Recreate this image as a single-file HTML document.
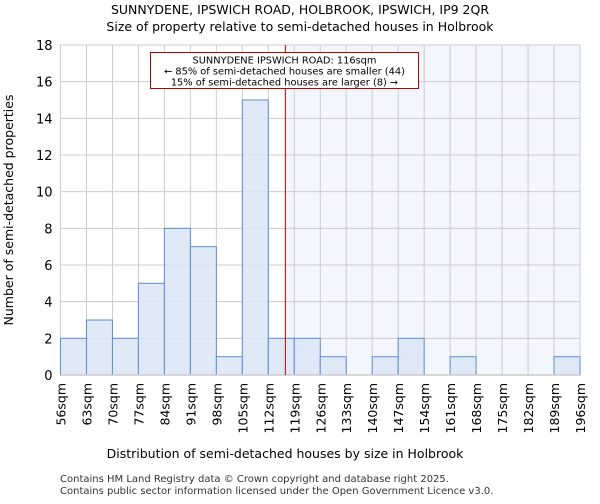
<!DOCTYPE html>
<html><head><meta charset="utf-8"><style>
body{margin:0;background:#fff;font-family:"DejaVu Sans","Liberation Sans",sans-serif}
</style></head><body>
<svg width="600" height="500" viewBox="0 0 600 500" font-family="DejaVu Sans, Liberation Sans, sans-serif">
<text x="300" y="14" text-anchor="middle" font-size="12.5">SUNNYDENE, IPSWICH ROAD, HOLBROOK, IPSWICH, IP9 2QR</text>
<text x="300" y="31" text-anchor="middle" font-size="12.5">Size of property relative to semi-detached houses in Holbrook</text>
<g id="plot"></g>
<text x="285" y="458" text-anchor="middle" font-size="12.5">Distribution of semi-detached houses by size in Holbrook</text>
<text transform="translate(13,210) rotate(-90)" text-anchor="middle" font-size="12.5">Number of semi-detached properties</text>
<text x="60" y="482" font-size="10" fill="#333">Contains HM Land Registry data © Crown copyright and database right 2025.</text>
<text x="60" y="494" font-size="10" fill="#333">Contains public sector information licensed under the Open Government Licence v3.0.</text>
</svg>
<script>
const binStarts=[56,63,70,77,84,91,98,105,112,119,126,133,140,147,154,161,168,175,182,189];
const counts=[2,3,2,5,8,7,1,15,2,2,1,0,1,2,0,1,0,0,0,1];
const xTickLabels=["56sqm","63sqm","70sqm","77sqm","84sqm","91sqm","98sqm","105sqm","112sqm","119sqm","126sqm","133sqm","140sqm","147sqm","154sqm","161sqm","168sqm","175sqm","182sqm","189sqm","196sqm"];
const xTickValues=[56,63,70,77,84,91,98,105,112,119,126,133,140,147,154,161,168,175,182,189,196];
const yTicks=[0,2,4,6,8,10,12,14,16,18];
const subjectSize=116.6;
const binWidth=7;
const X0=60.5,X1=580,Y0=375,Y1=45;
const xs=v=>X0+(v-56)*(X1-X0)/(196-56);
const ys=v=>Y0-v*(Y0-Y1)/18;
const NS="http://www.w3.org/2000/svg";
const g=document.getElementById('plot');
function mk(t,a){const e=document.createElementNS(NS,t);for(const k in a)e.setAttribute(k,a[k]);g.appendChild(e);return e;}
let r=mk('rect',{x:xs(subjectSize),y:Y1,width:X1-xs(subjectSize),height:Y0-Y1,fill:'#f3f6fd'});


yTicks.forEach(t=>{
 const l=mk('line',{x1:X0,x2:X1,y1:ys(t),y2:ys(t),stroke:'#cccccc'});
 
 
 const tx=mk('text',{x:X0-8,y:ys(t)+5,'text-anchor':'end','font-size':'13'});tx.textContent=t;
 
 
});
xTickValues.forEach((v,i)=>{
 const l=mk('line',{x1:xs(v),x2:xs(v),y1:Y1,y2:Y0,stroke:'#cccccc'});
 
 
 const tx=mk('text',{transform:`translate(${xs(v)+5},${Y0+8}) rotate(-90)`,'text-anchor':'end','font-size':'12.5'});tx.textContent=xTickLabels[i];
 
 
});
binStarts.forEach((s,i)=>{
 if(!counts[i])return;
 const b=mk('rect',{x:xs(s),y:ys(counts[i]),width:xs(s+binWidth)-xs(s),height:Y0-ys(counts[i]),fill:'#dbe5f4','fill-opacity':0.85,stroke:'#5b8fd6','stroke-width':1});
 
 
});
const ax=mk('line',{x1:X0,x2:X1,y1:Y0,y2:Y0,stroke:'#cccccc','stroke-width':1.5});


const m=mk('line',{x1:xs(subjectSize),x2:xs(subjectSize),y1:Y1,y2:Y0,stroke:'#c00000','stroke-width':1});


const box=mk('rect',{x:150.5,y:52.5,width:268,height:36,fill:'#fff',stroke:'#c00000'});


["SUNNYDENE IPSWICH ROAD: 116sqm","← 85% of semi-detached houses are smaller (44)","15% of semi-detached houses are larger (8) →"].forEach((t,i)=>{
 const tx=mk('text',{x:284.5,y:63.5+i*11,'text-anchor':'middle','font-size':'9.8'});tx.textContent=t;
 
 
});
</script>
</body></html>
